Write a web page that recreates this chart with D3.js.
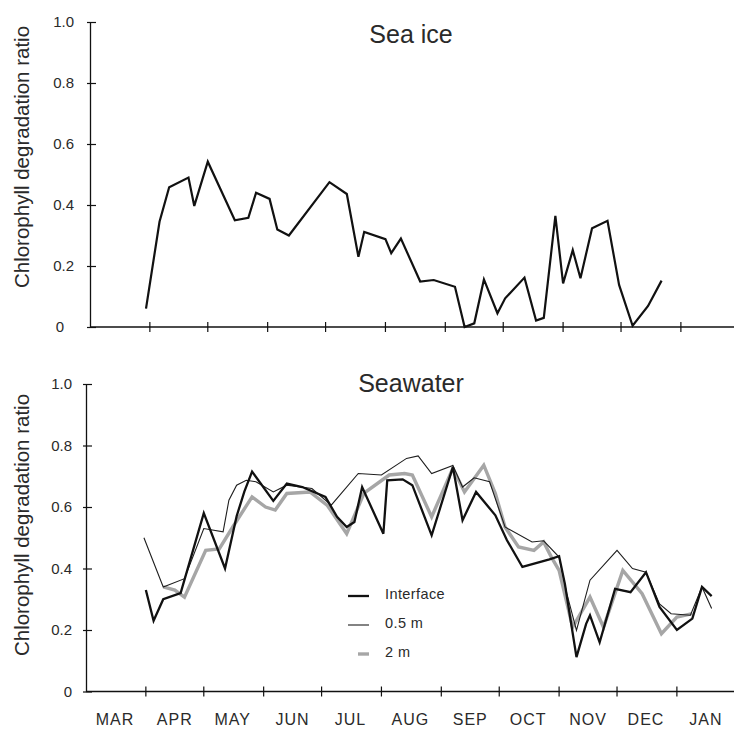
<!DOCTYPE html>
<html>
<head>
<meta charset="utf-8">
<script src="https://cdn.jsdelivr.net/npm/d3@7"></script>
<style>
  body { margin: 0; background: #fff; }
  text { font-family: "Liberation Sans", Arial, Helvetica, sans-serif; fill: #2a2a2a; }
</style>
</head>
<body>
<div id="visualization"></div>
<script>
const width = 734;
const height = 729;
const parseDate = d3.timeParse('%Y-%m-%d');

// season runs March -> January
const seasonStart = '1991-03-01';
const seasonEnd = '1992-02-01';
const monthLabels = ['MAR', 'APR', 'MAY', 'JUN', 'JUL', 'AUG', 'SEP', 'OCT', 'NOV', 'DEC', 'JAN'];
const yTicks = [0, 0.2, 0.4, 0.6, 0.8, 1.0];

// Sea ice
const seaIceDates = ['1991-03-30', '1991-04-06', '1991-04-11', '1991-04-21', '1991-04-24', '1991-05-01', '1991-05-15', '1991-05-22', '1991-05-26', '1991-06-02', '1991-06-06', '1991-06-12', '1991-07-03', '1991-07-12', '1991-07-18', '1991-07-21', '1991-08-01', '1991-08-04', '1991-08-09', '1991-08-19', '1991-08-26', '1991-09-06', '1991-09-11', '1991-09-16', '1991-09-21', '1991-09-28', '1991-10-02', '1991-10-12', '1991-10-18', '1991-10-22', '1991-10-28', '1991-11-01', '1991-11-06', '1991-11-10', '1991-11-16', '1991-11-24', '1991-11-30', '1991-12-07', '1991-12-15', '1991-12-22'];
const seaIceValues = [0.06, 0.345, 0.458, 0.49, 0.397, 0.542, 0.35, 0.358, 0.44, 0.42, 0.32, 0.30, 0.475, 0.436, 0.23, 0.312, 0.288, 0.242, 0.29, 0.149, 0.154, 0.132, 0.0, 0.012, 0.156, 0.045, 0.094, 0.162, 0.021, 0.03, 0.364, 0.143, 0.252, 0.16, 0.324, 0.348, 0.138, 0.004, 0.069, 0.152];

// Seawater, interface
const interfaceDates = ['1991-04-01', '1991-04-05', '1991-04-10', '1991-04-19', '1991-05-01', '1991-05-12', '1991-05-18', '1991-05-22', '1991-05-26', '1991-06-06', '1991-06-13', '1991-06-21', '1991-07-03', '1991-07-09', '1991-07-14', '1991-07-18', '1991-07-22', '1991-08-02', '1991-08-04', '1991-08-12', '1991-08-17', '1991-08-27', '1991-09-07', '1991-09-12', '1991-09-19', '1991-09-29', '1991-10-05', '1991-10-13', '1991-10-27', '1991-11-01', '1991-11-04', '1991-11-10', '1991-11-15', '1991-11-17', '1991-11-22', '1991-11-30', '1991-12-08', '1991-12-16', '1991-12-23', '1992-01-01', '1992-01-09', '1992-01-14', '1992-01-19'];
const interfaceValues = [0.33, 0.23, 0.30, 0.32, 0.58, 0.40, 0.57, 0.65, 0.715, 0.62, 0.676, 0.665, 0.633, 0.568, 0.535, 0.551, 0.665, 0.513, 0.687, 0.69, 0.671, 0.508, 0.73, 0.557, 0.649, 0.573, 0.492, 0.405, 0.43, 0.44, 0.35, 0.112, 0.22, 0.248, 0.16, 0.334, 0.323, 0.388, 0.275, 0.20, 0.237, 0.34, 0.31];

// Seawater, 0.5 m
const halfMetreDates = ['1991-03-31', '1991-04-10', '1991-04-21', '1991-05-01', '1991-05-11', '1991-05-14', '1991-05-18', '1991-05-23', '1991-05-28', '1991-06-06', '1991-06-13', '1991-06-26', '1991-07-06', '1991-07-20', '1991-08-01', '1991-08-14', '1991-08-20', '1991-08-27', '1991-09-07', '1991-09-12', '1991-09-18', '1991-09-26', '1991-10-04', '1991-10-18', '1991-10-24', '1991-11-01', '1991-11-05', '1991-11-10', '1991-11-17', '1991-12-01', '1991-12-09', '1991-12-16', '1991-12-23', '1991-12-29', '1992-01-08', '1992-01-14', '1992-01-19'];
const halfMetreValues = [0.50, 0.34, 0.367, 0.53, 0.519, 0.622, 0.671, 0.687, 0.682, 0.649, 0.671, 0.66, 0.606, 0.709, 0.704, 0.758, 0.766, 0.709, 0.735, 0.665, 0.695, 0.682, 0.535, 0.486, 0.49, 0.437, 0.318, 0.199, 0.362, 0.459, 0.40, 0.388, 0.285, 0.253, 0.248, 0.34, 0.27];

// Seawater, 2 m
const twoMetreDates = ['1991-04-10', '1991-04-16', '1991-04-21', '1991-05-02', '1991-05-09', '1991-05-16', '1991-05-26', '1991-06-02', '1991-06-07', '1991-06-13', '1991-06-25', '1991-07-04', '1991-07-14', '1991-07-23', '1991-08-05', '1991-08-13', '1991-08-17', '1991-08-27', '1991-09-07', '1991-09-13', '1991-09-23', '1991-09-29', '1991-10-04', '1991-10-11', '1991-10-19', '1991-10-24', '1991-10-28', '1991-11-01', '1991-11-08', '1991-11-17', '1991-11-24', '1991-12-04', '1991-12-14', '1991-12-24', '1992-01-01', '1992-01-09'];
const twoMetreValues = [0.34, 0.33, 0.307, 0.459, 0.464, 0.535, 0.633, 0.60, 0.59, 0.644, 0.649, 0.605, 0.513, 0.645, 0.704, 0.709, 0.704, 0.568, 0.726, 0.649, 0.736, 0.644, 0.535, 0.47, 0.459, 0.486, 0.437, 0.394, 0.209, 0.307, 0.209, 0.394, 0.318, 0.188, 0.242, 0.253];

const seriesNames = ['Interface', '0.5 m', '2 m'];
const seriesStyles = [
  { stroke: '#111', width: 2.3 },
  { stroke: '#1e1e1e', width: 1.1 },
  { stroke: '#a6a6a6', width: 3.4 }
];

const zip = (dates, values) => dates.map((d, i) => ({ date: parseDate(d), value: values[i] }));

const svg = d3.select('#visualization')
  .append('svg')
  .attr('width', width)
  .attr('height', height);

function drawPanel(cfg) {
  // cfg: left edge, y pixel for 0 and 1, title, whether month labels are drawn
  const x = d3.scaleTime()
    .domain([parseDate(seasonStart), parseDate(seasonEnd)])
    .range([cfg.left, cfg.left + 337 * 1.931]);
  const y = d3.scaleLinear()
    .domain([0, 1])
    .range([cfg.bottom, cfg.top]);

  const g = svg.append('g');

  // y axis
  const yAxis = d3.axisLeft(y)
    .tickValues(yTicks)
    .tickSizeInner(-6)
    .tickSizeOuter(0)
    .tickPadding(cfg.labelPad)
    .tickFormat(d => d === 0 ? '0' : d3.format('.1f')(d));
  const yAxisG = g.append('g')
    .attr('transform', `translate(${cfg.left}, 0)`)
    .call(yAxis);
  yAxisG.select('.domain').attr('stroke', '#111').attr('stroke-width', 1.3);
  yAxisG.selectAll('.tick line').attr('x1', -3).attr('stroke', '#111').attr('stroke-width', 1.2);
  yAxisG.selectAll('.tick text')
    .attr('font-size', 15)
    .attr('fill', '#333')
    .attr('dx', d => d === 0 ? cfg.zeroShift : 0)
    .style('font-family', '"Liberation Sans", Arial, sans-serif');

  // x axis line and month ticks
  g.append('line')
    .attr('x1', cfg.left).attr('x2', width)
    .attr('y1', y(0)).attr('y2', y(0))
    .attr('stroke', '#111').attr('stroke-width', 1.3);
  const monthStarts = d3.timeMonth.range(d3.timeMonth.offset(parseDate(seasonStart), 1), parseDate(seasonEnd));
  g.selectAll('.mtick')
    .data(monthStarts)
    .join('line')
    .attr('class', 'mtick')
    .attr('x1', d => x(d)).attr('x2', d => x(d))
    .attr('y1', y(0) - 5).attr('y2', y(0) + 5)
    .attr('stroke', '#111').attr('stroke-width', 1.2);

  if (cfg.monthLabels) {
    const mids = d3.timeMonth.range(parseDate(seasonStart), parseDate(seasonEnd))
      .map(d => d3.timeDay.offset(d, 15));
    g.selectAll('.mlabel')
      .data(mids)
      .join('text')
      .attr('class', 'mlabel')
      .attr('x', d => x(d))
      .attr('y', y(0) + 33)
      .attr('text-anchor', 'middle')
      .attr('font-size', 16)
      .attr('letter-spacing', 1)
      .attr('fill', '#333')
      .text((d, i) => monthLabels[i]);
  }

  // y axis title
  g.append('text')
    .attr('transform', 'rotate(270)')
    .attr('x', -cfg.labelY)
    .attr('y', 29)
    .attr('text-anchor', 'middle')
    .attr('font-size', 20.5)
    .attr('fill', '#333')
    .text('Chlorophyll degradation ratio');

  // panel title
  g.append('text')
    .attr('x', 411)
    .attr('y', cfg.titleY)
    .attr('text-anchor', 'middle')
    .attr('font-size', 25)
    .attr('fill', '#222')
    .text(cfg.title);

  return { g, x, y };
}

const seaIcePanel = drawPanel({ left: 90, top: 22, bottom: 327, labelPad: 16, zeroShift: -10, monthLabels: false, labelY: 157, title: 'Sea ice', titleY: 43 });
const seawaterPanel = drawPanel({ left: 86, top: 384, bottom: 691.5, labelPad: 14, zeroShift: 0, monthLabels: true, labelY: 525, title: 'Seawater', titleY: 392 });

// Sea ice line
const seaIceLine = d3.line().x(d => seaIcePanel.x(d.date)).y(d => seaIcePanel.y(d.value));
seaIcePanel.g.append('path')
  .datum(zip(seaIceDates, seaIceValues))
  .attr('fill', 'none')
  .attr('stroke', '#111')
  .attr('stroke-width', 2.2)
  .attr('stroke-linejoin', 'miter')
  .attr('d', seaIceLine);

// Seawater lines, drawn 2 m first so black lines sit on top
const seawaterLine = d3.line().x(d => seawaterPanel.x(d.date)).y(d => seawaterPanel.y(d.value));
const seawater = [
  zip(interfaceDates, interfaceValues),
  zip(halfMetreDates, halfMetreValues),
  zip(twoMetreDates, twoMetreValues)
];
[2, 1, 0].forEach(i => {
  seawaterPanel.g.append('path')
    .datum(seawater[i])
    .attr('fill', 'none')
    .attr('stroke', seriesStyles[i].stroke)
    .attr('stroke-width', seriesStyles[i].width)
    .attr('d', seawaterLine);
});

// Legend
const legendG = seawaterPanel.g.append('g').attr('transform', 'translate(348, 594)');
seriesNames.forEach((name, i) => {
  const row = legendG.append('g').attr('transform', `translate(0, ${i * 29})`);
  row.append('line')
    .attr('x1', i === 2 ? 10 : 0).attr('x2', 21)
    .attr('y1', 2).attr('y2', 2)
    .attr('stroke', seriesStyles[i].stroke)
    .attr('stroke-width', seriesStyles[i].width);
  row.append('text')
    .attr('x', 37)
    .attr('y', 5)
    .attr('font-size', 14.5)
    .attr('letter-spacing', 0.4)
    .attr('fill', '#333')
    .text(name);
});
</script>
</body>
</html>
